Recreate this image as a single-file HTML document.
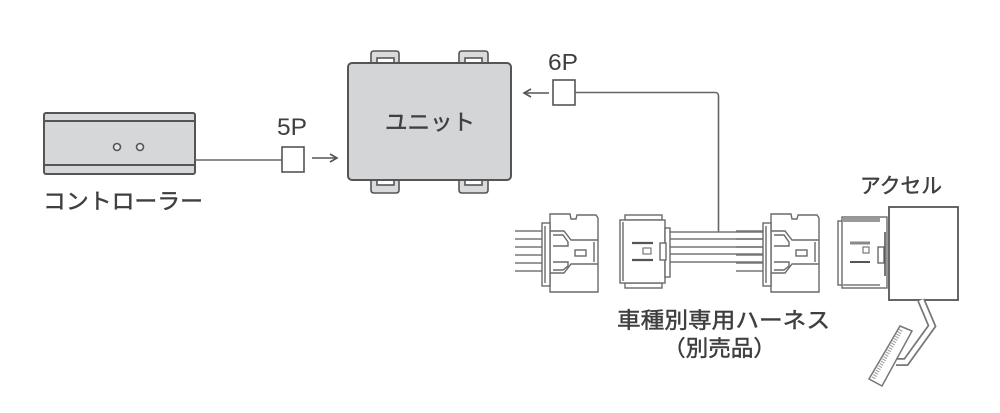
<!DOCTYPE html>
<html><head><meta charset="utf-8"><style>
html,body{margin:0;padding:0;background:#fff;}
svg{display:block;}
text{font-family:"Liberation Sans","Noto Sans CJK JP",sans-serif;fill:#3f3f3f;}
text.j{stroke:#3f3f3f;stroke-width:0.45;}
</style></head><body>
<svg width="1000" height="413" viewBox="0 0 1000 413" xmlns="http://www.w3.org/2000/svg">
<defs>
<g id="hconn" fill="#fff" stroke="#6a6a6a" stroke-width="1.4">
  <g stroke="#777" stroke-width="1.5">
    <line x1="515" y1="231" x2="543" y2="231"/>
    <line x1="515" y1="239" x2="543" y2="239"/>
    <line x1="515" y1="247" x2="543" y2="247"/>
    <line x1="515" y1="255" x2="543" y2="255"/>
    <line x1="515" y1="263" x2="543" y2="263"/>
    <line x1="515" y1="271" x2="543" y2="271"/>
  </g>
  <path d="M550,214 L570,214 L571,219 L576,219 L577,215 L596,215 L598,218 L598,292 L550,292 Z"/>
  <rect x="542" y="223" width="8" height="63"/>
  <line x1="545" y1="226" x2="545" y2="283"/>
  <path d="M550,231 L564,231 L571,240 L598,240" fill="none"/>
  <path d="M553,235 L563,235 L568,242 L568,246 L553,246" fill="none"/>
  <path d="M598,264 L571,264 L564,273 L550,273" fill="none"/>
  <path d="M553,262 L568,262 L568,266 L563,270 L553,270" fill="none"/>
  <rect x="575" y="250" width="11" height="6"/>
  <line x1="594" y1="242" x2="594" y2="262"/>
</g>
</defs>

<!-- Controller -->
<rect x="44" y="113" width="151" height="61" rx="2" fill="#d5d7d9" stroke="#555" stroke-width="2"/>
<line x1="45" y1="121" x2="194" y2="121" stroke="#555" stroke-width="2"/>
<line x1="45" y1="165" x2="194" y2="165" stroke="#555" stroke-width="2"/>
<circle cx="117" cy="147" r="3.5" fill="#e4e5e6" stroke="#555" stroke-width="1.6"/>
<circle cx="140" cy="147" r="3.5" fill="#e4e5e6" stroke="#555" stroke-width="1.6"/>
<text class="j" x="43" y="209" font-size="22" textLength="160" lengthAdjust="spacingAndGlyphs">コントローラー</text>

<!-- 5P connector -->
<line x1="195" y1="160" x2="282" y2="160" stroke="#666" stroke-width="1.6"/>
<rect x="282" y="147" width="22" height="25" fill="#fff" stroke="#555" stroke-width="1.6"/>
<text x="277" y="135" font-size="24" textLength="30" lengthAdjust="spacingAndGlyphs">5P</text>
<g stroke="#555" stroke-width="1.6" fill="none">
  <line x1="312" y1="158" x2="337" y2="158"/>
  <polyline points="330,154 337,158 330,162"/>
</g>

<!-- Unit tabs -->
<g fill="#d9dadc" stroke="#555" stroke-width="1.6">
  <path d="M371,63 L371,54 Q371,51 374,51 L396,51 Q399,51 399,54 L399,63"/>
  <path d="M459,63 L459,54 Q459,51 462,51 L485,51 Q488,51 488,54 L488,63"/>
  <path d="M371,180 L371,190 Q371,193 374,193 L396,193 Q399,193 399,190 L399,180"/>
  <path d="M459,180 L459,190 Q459,193 462,193 L485,193 Q488,193 488,190 L488,180"/>
  <rect x="377" y="58" width="17" height="5" fill="#fff"/>
  <rect x="465" y="58" width="17" height="5" fill="#fff"/>
  <rect x="377" y="180" width="17" height="5" fill="#fff"/>
  <rect x="465" y="180" width="17" height="5" fill="#fff"/>
</g>
<rect x="348" y="63" width="163" height="117" rx="4" fill="#d3d5d7" stroke="#555" stroke-width="2"/>
<text class="j" x="385" y="130" font-size="22" textLength="90" lengthAdjust="spacingAndGlyphs">ユニット</text>

<!-- 6P connector -->
<text x="548" y="70" font-size="23" textLength="30" lengthAdjust="spacingAndGlyphs">6P</text>
<rect x="553" y="80" width="22" height="25" fill="#fff" stroke="#555" stroke-width="1.6"/>
<g stroke="#555" stroke-width="1.6" fill="none">
  <line x1="524" y1="93" x2="549" y2="93"/>
  <polyline points="531,89 524,93 531,97"/>
</g>
<path d="M575,92.5 L715,92.5 Q718.5,92.5 718.5,96 L718.5,232" fill="none" stroke="#666" stroke-width="1.6"/>

<!-- Harness wires -->
<g stroke="#777" stroke-width="1.5">
  <line x1="670" y1="232" x2="765" y2="232"/>
  <line x1="670" y1="239" x2="765" y2="239"/>
  <line x1="670" y1="247" x2="765" y2="247"/>
  <line x1="670" y1="254" x2="765" y2="254"/>
  <line x1="670" y1="262" x2="765" y2="262"/>
</g>

<use href="#hconn"/>
<use href="#hconn" transform="translate(221,0)"/>

<!-- middle connector -->
<g fill="#fff" stroke="#6a6a6a" stroke-width="1.4">
  <rect x="625" y="215" width="37" height="5"/>
  <rect x="625" y="283" width="37" height="5"/>
  <rect x="620" y="220" width="45" height="63"/>
  <line x1="623" y1="222" x2="623" y2="281"/>
  <rect x="665" y="228" width="5" height="49"/>
  <rect x="660" y="243" width="6" height="17"/>
</g>
<line x1="632" y1="243" x2="653" y2="243" stroke="#555" stroke-width="2.2"/>
<line x1="632" y1="260" x2="653" y2="260" stroke="#555" stroke-width="2.2"/>
<rect x="643" y="248" width="8" height="6" fill="#fff" stroke="#777" stroke-width="1.2"/>

<!-- Harness label -->
<text class="j" x="617" y="328" font-size="22" textLength="213" lengthAdjust="spacingAndGlyphs">車種別専用ハーネス</text>
<text class="j" x="663" y="356" font-size="22" textLength="113" lengthAdjust="spacingAndGlyphs">（別売品）</text>

<!-- Accelerator -->
<text class="j" x="860" y="193" font-size="21" textLength="82" lengthAdjust="spacingAndGlyphs">アクセル</text>
<g fill="#fff" stroke="#6a6a6a" stroke-width="1.4">
  <rect x="838" y="221" width="5" height="64"/>
  <rect x="842" y="217" width="45" height="71"/>
  <line x1="843" y1="220" x2="880" y2="220" stroke="#999" stroke-width="4"/>
  <line x1="843" y1="285" x2="880" y2="285" stroke="#999" stroke-width="2"/>
  <rect x="878" y="247" width="6" height="16"/>
</g>
<line x1="885" y1="232" x2="885" y2="276" stroke="#555" stroke-width="1.6"/>
<line x1="850" y1="243" x2="870" y2="243" stroke="#888" stroke-width="3"/>
<line x1="850" y1="262" x2="870" y2="262" stroke="#555" stroke-width="2"/>
<rect x="863" y="247" width="6" height="6" fill="#fff" stroke="#777" stroke-width="1.2"/>
<rect x="889" y="207" width="69" height="93" fill="#fff" stroke="#555" stroke-width="1.8"/>

<!-- Pedal arm -->
<polyline points="921,300 932,326 906,362 896,362" fill="none" stroke="#777" stroke-width="8" stroke-linejoin="miter"/>
<polyline points="921,300 932,326 906,362 896,362" fill="none" stroke="#fff" stroke-width="4.5" stroke-linejoin="miter"/>
<polygon points="900,326 912,331 882,386 869,379" fill="#fff" stroke="#777" stroke-width="1.5"/>
<line x1="901" y1="330" x2="873" y2="379" stroke="#999" stroke-width="4" stroke-dasharray="1 1.6"/>
</svg>
</body></html>
